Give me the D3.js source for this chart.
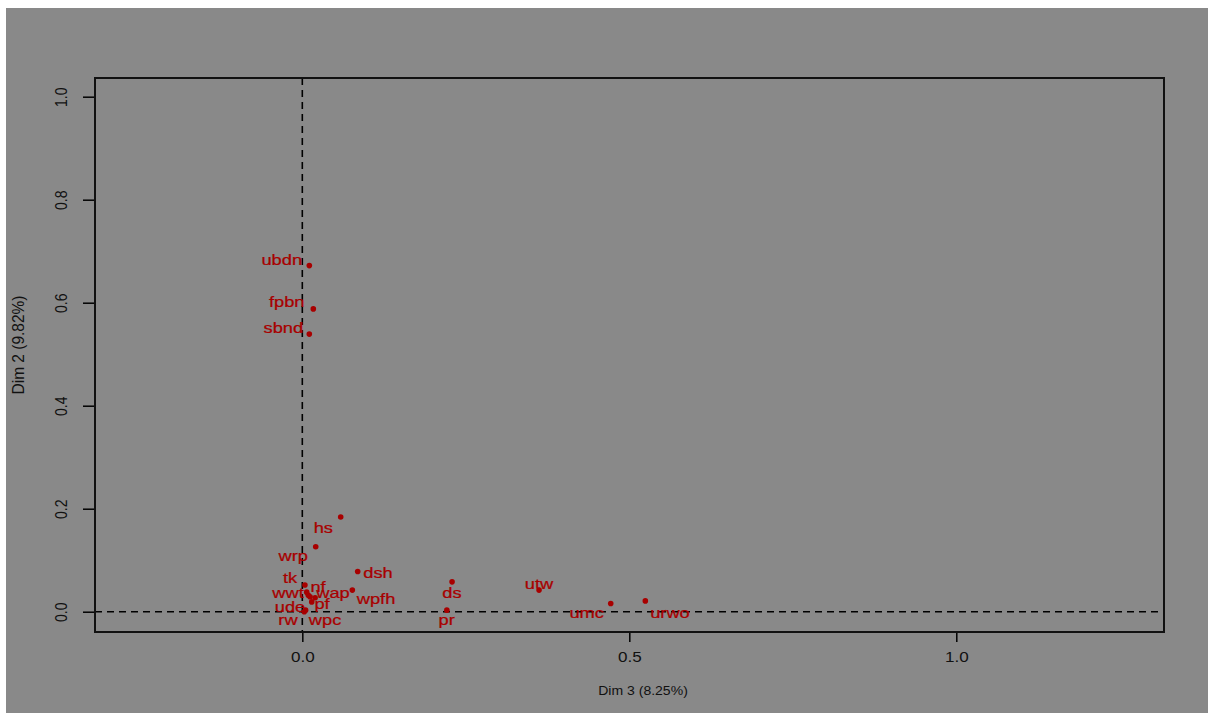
<!DOCTYPE html>
<html><head><meta charset="utf-8">
<script src="https://cdn.jsdelivr.net/npm/d3@7"></script>
<style>
html,body{margin:0;padding:0;background:#fff;}
svg{display:block;}
text{font-family:"Liberation Sans",Arial,sans-serif;}
</style></head>
<body>
<script>
// ---- data ----
const labels = ["ubdn","fpbn","sbnd","hs","wrp","dsh","tk","nf","wwt","ude","pf","wap","wpfh","rw","wpc","ds","pr","utw","umc","urwo"];
const dim3 = [0.0107,0.0168,0.0107,0.0587,0.0205,0.0847,0.0040,0.0067,0.0092,0.0118,0.0144,0.0196,0.0765,0.0030,0.0050,0.2290,0.2210,0.3620,0.4716,0.5245];
const dim2 = [0.672,0.588,0.539,0.184,0.126,0.078,0.052,0.038,0.032,0.029,0.019,0.027,0.042,0.000,0.003,0.058,0.003,0.042,0.016,0.021];
// label anchor positions (data units), as placed by the label-avoidance layout
const labX = [-0.0315,-0.0239,-0.0290,0.0321,-0.0138,0.1157,-0.0188,0.0240,-0.0219,-0.0188,0.0301,0.0469,0.1127,-0.0219,0.0347,0.2289,0.2208,0.3619,0.4349,0.5622];
const labY = [0.682,0.602,0.550,0.162,0.108,0.075,0.065,0.048,0.036,0.009,0.015,0.036,0.025,-0.016,-0.016,0.036,-0.016,0.054,-0.0025,-0.002];
const xTicks = [0.0,0.5,1.0];
const yTicks = [0.0,0.2,0.4,0.6,0.8,1.0];
const xTitle = "Dim 3 (8.25%)";
const yTitle = "Dim 2 (9.82%)";

const W = 1208, H = 713;
const box = {l:95, r:1164, t:78, b:632};
const svg = d3.select("body").append("svg").attr("width",W).attr("height",H);
svg.append("rect").attr("x",6).attr("y",8).attr("width",W-6).attr("height",H-8).attr("fill","#898989");

const x = d3.scaleLinear().domain([-0.317,1.3176]).range([box.l,box.r]);
const y = d3.scaleLinear().domain([-0.0394,1.0363]).range([box.b,box.t]);

const red = "#a80000";
const sx = 1.22;

// reference dashed lines
svg.append("line").attr("x1",box.l).attr("x2",box.r).attr("y1",y(0)).attr("y2",y(0))
  .attr("stroke","#000").attr("stroke-width",1.6).attr("stroke-dasharray","7,5");
svg.append("line").attr("x1",x(0)).attr("x2",x(0)).attr("y1",box.t).attr("y2",box.b)
  .attr("stroke","#000").attr("stroke-width",1.6).attr("stroke-dasharray","7,5");

// axes
const xAxis = d3.axisBottom(x).tickValues(xTicks).tickFormat(d3.format(".1f")).tickSize(10).tickPadding(0);
const gx = svg.append("g").attr("transform",`translate(0,${box.b})`).call(xAxis);
gx.select(".domain").remove();
gx.selectAll("line").attr("stroke","#000").attr("stroke-width",1.5);
gx.selectAll("text").attr("fill","#111").attr("font-size",14).attr("dy",null).attr("y",0)
  .attr("dominant-baseline","central")
  .attr("transform",`translate(0,25) scale(${sx},1)`)
  .attr("x",0);

const yAxis = d3.axisLeft(y).tickValues(yTicks).tickFormat(d3.format(".1f")).tickSize(12).tickPadding(0);
const gy = svg.append("g").attr("transform",`translate(${box.l},0)`).call(yAxis);
gy.select(".domain").remove();
gy.selectAll("line").attr("stroke","#000").attr("stroke-width",1.5);
gy.selectAll("text").attr("fill","#111").attr("font-size",14).attr("x",0).attr("dy",null)
  .attr("text-anchor","middle").attr("dominant-baseline","central")
  .attr("transform",`translate(-34,0) scale(${sx},1) rotate(-90)`);

// box
svg.append("rect").attr("x",box.l).attr("y",box.t).attr("width",box.r-box.l).attr("height",box.b-box.t)
  .attr("fill","none").attr("stroke","#111").attr("stroke-width",2);

// titles
svg.append("text").attr("transform",`translate(643,691) scale(1.08,1)`)
  .attr("text-anchor","middle").attr("dominant-baseline","central").attr("font-size",13).attr("fill","#111").text(xTitle);
svg.append("text").attr("transform",`translate(18,345) scale(1.1,1) rotate(-90)`)
  .attr("text-anchor","middle").attr("dominant-baseline","central").attr("font-size",15.5).attr("fill","#111").text(yTitle);

// points
svg.append("g").selectAll("circle").data(labels).join("circle")
  .attr("cx",(d,i)=>x(dim3[i])).attr("cy",(d,i)=>y(dim2[i])).attr("r",2.8).attr("fill",red);

// labels
svg.append("g").selectAll("text").data(labels).join("text")
  .attr("transform",(d,i)=>`translate(${x(labX[i])},${y(labY[i])}) scale(${sx},1)`)
  .attr("text-anchor","middle").attr("dominant-baseline","central")
  .attr("font-size",15).attr("fill",red)
  .attr("stroke",red).attr("stroke-width",0.25).text(d=>d);
</script>
</body></html>
